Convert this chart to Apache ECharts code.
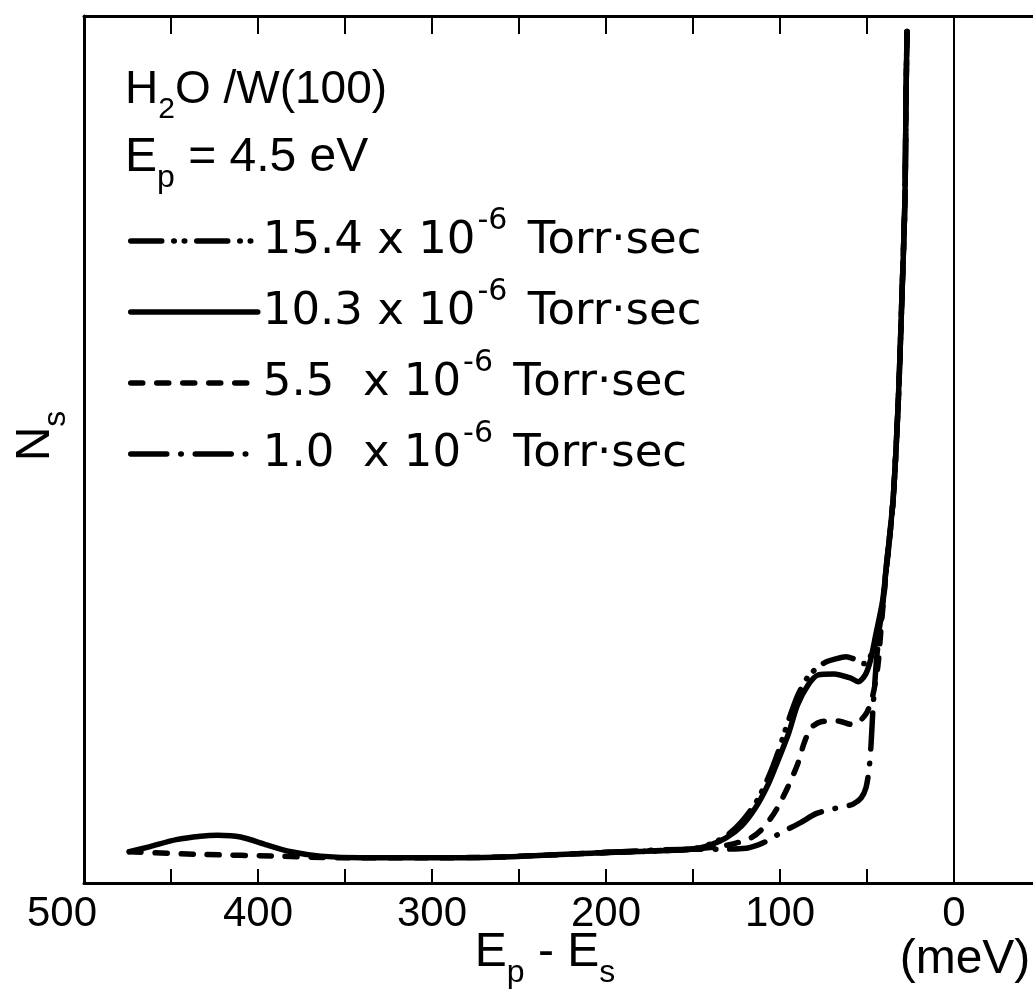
<!DOCTYPE html>
<html><head><meta charset="utf-8">
<script src="https://cdn.jsdelivr.net/npm/echarts@6/dist/echarts.min.js"></script>
<style>html,body{margin:0;padding:0;background:#fff}#c{width:1033px;height:1008px}</style>
</head><body><div id="c"></div><script>
// ---- data (energy loss in meV, intensity in arbitrary units) ----
const tickValues = [50, 100, 150, 200, 250, 300, 350, 400, 450];
const tickLabels = [0, 100, 200, 300, 400, 500];
const seriesNames = ['15.4', '10.3', '5.5', '1.0'];

const e103 = [474, 462, 447, 433, 423, 410, 395, 381, 364, 341, 306, 260, 203, 151, 140, 131, 122, 114, 107, 101, 95, 90, 84, 78, 69, 59, 55, 51, 48, 45, 41, 38.5, 35, 32, 30, 28.2, 27.6, 27];
const n103 = [36, 42, 50, 54, 55, 53, 44, 36, 31, 29, 29, 30, 35, 39, 44, 52, 66, 87, 113, 142, 173, 205, 228, 240, 241, 236, 232, 240, 257, 286, 326, 373, 442, 557, 672, 788, 903, 982];

const e154 = [203, 151, 140, 131, 122.4, 113.8, 106.9, 101.1, 95.4, 89.7, 83.9, 78.2, 73.6, 69, 62.1, 55.7, 51.7, 47.7, 44.3, 42, 38.5, 35, 32, 30, 28.2, 27.6, 27];
const n154 = [35, 39, 45, 54, 70, 93, 121, 151, 186, 217, 238, 249, 255, 258, 261, 257, 253, 263, 280, 306, 373, 442, 557, 672, 788, 903, 982];

const e55 = [474, 433, 387, 352, 306, 260, 203, 151, 136.8, 125.3, 116.7, 110.9, 105.2, 101.1, 95.4, 89.7, 86.2, 82.2, 76.4, 66.7, 59.2, 54.6, 50, 46.6, 43.7, 42, 39.7, 35, 32, 30, 28.2, 27.6, 27];
const n55 = [36, 33, 31, 29, 29, 30, 35, 39, 41.5, 46, 52, 61, 75, 88, 111, 138, 161, 179, 186, 187, 183, 186, 197, 217, 251, 292, 344, 442, 557, 672, 788, 903, 982];

const e10 = [203, 151, 133.9, 119.5, 113.8, 108, 99.4, 87.9, 79.3, 70.7, 63.2, 58, 53.4, 50.6, 48.9, 47.7, 46.6, 45.4, 44.3, 42, 39.7, 35, 32, 30, 28.2, 27.6, 27];
const n10 = [35, 39, 39, 40, 43, 48, 58, 70, 80, 85, 88, 91, 98, 110, 130, 159, 200, 234, 263, 303, 344, 442, 557, 672, 788, 903, 982];

const zip = (a, b) => a.map((v, i) => [v, b[i]]);

const LW = 5.5;
const FONT = 'Liberation Sans';
const LEGFONT = 'DejaVu Sans';
const styles = {
  '15.4': [31, 12, 0.5, 10, 0.5, 12],
  '10.3': 'solid',
  '5.5': [12, 14],
  '1.0': [36, 14, 0.5, 14]
};
function lineSeries(name, data, z) {
  return {
    name, type: 'line', data, symbol: 'none', smooth: 0.25, z,
    itemStyle: { color: '#000' },
    lineStyle: { color: '#000', width: LW, type: styles[name], cap: 'round', join: 'round' },
    emphasis: { disabled: true }
  };
}

const chart = echarts.init(document.getElementById('c'), null, { renderer: 'canvas' });
const s103 = lineSeries('10.3', zip(e103, n103), 2);
s103.markLine = {
  silent: true, symbol: ['none', 'none'], label: { show: false },
  lineStyle: { color: '#000', width: 2, type: 'solid' },
  data: [{ xAxis: 0 }]
};

const rich = {
  sb: { fontSize: 32, lineHeight: 32, padding: [40, 0, 0, 0], fontFamily: FONT, color: '#000' },
  m: { fontSize: 48, lineHeight: 56, fontFamily: FONT, color: '#000' },
  tsb: { fontSize: 30, lineHeight: 30, padding: [40, 0, 0, 0], fontFamily: FONT, color: '#000' },
  tm: { fontSize: 46, lineHeight: 56, fontFamily: FONT, color: '#000' }
};
const legRich = {
  sp: { fontSize: 30, lineHeight: 30, padding: [0, 6, 40, 2], fontFamily: LEGFONT, color: '#000' }
};

chart.setOption({
  animation: false,
  backgroundColor: '#fff',
  grid: { left: 84, right: 0, top: 16, bottom: 125, containLabel: false },
  xAxis: [
    {
      type: 'value', inverse: true, min: -45.4, max: 500, position: 'bottom',
      axisLine: { onZero: false, lineStyle: { color: '#000', width: 3 } },
      axisTick: { show: true, inside: true, length: 14, customValues: tickValues, lineStyle: { color: '#000', width: 2 } },
      axisLabel: {
        show: true, customValues: tickLabels, margin: 10, color: '#000', fontSize: 42, fontFamily: FONT,
        formatter: v => v === 500 ? '{l|500}' : String(v),
        rich: { l: { fontSize: 42, fontFamily: FONT, color: '#000', padding: [0, 44, 0, 0] } }
      },
      splitLine: { show: false }
    },
    {
      type: 'value', inverse: true, min: -45.4, max: 500, position: 'top',
      axisLine: { onZero: false, lineStyle: { color: '#000', width: 3 } },
      axisTick: { show: true, inside: true, length: 18, customValues: tickValues, lineStyle: { color: '#000', width: 2 } },
      axisLabel: { show: false },
      splitLine: { show: false }
    }
  ],
  yAxis: {
    type: 'value', min: 0, max: 1000,
    axisLine: { show: true, onZero: false, lineStyle: { color: '#000', width: 3 } },
    axisTick: { show: false }, axisLabel: { show: false }, splitLine: { show: false }
  },
  legend: {
    orient: 'vertical', left: 128, top: 206, itemGap: 1,
    itemWidth: 127, itemHeight: 8, padding: 0,
    selectedMode: false,
    data: seriesNames,
    lineStyle: { width: LW },
    itemStyle: { color: 'rgba(0,0,0,0)', borderColor: 'rgba(0,0,0,0)', borderWidth: 0 },
    formatter: n => (n.length < 4 ? n + '  x 10' : n + ' x 10') + '{sp|-6} Torr·sec',
    textStyle: { fontSize: 45, lineHeight: 56, fontFamily: LEGFONT, color: '#000', rich: legRich }
  },
  graphic: [
    { type: 'text', x: 125, y: 90, silent: true,
      style: { text: '{tm|H}{tsb|2}{tm|O /W(100)}', rich: rich, verticalAlign: 'middle', align: 'left' } },
    { type: 'text', x: 125, y: 158, silent: true,
      style: { text: '{m|E}{sb|p}{m| = 4.5 eV}', rich: rich, verticalAlign: 'middle', align: 'left' } },
    { type: 'text', x: 545, y: 953, silent: true,
      style: { text: '{m|E}{sb|p}{m| - E}{sb|s}', rich: rich, verticalAlign: 'middle', align: 'center' } },
    { type: 'text', x: 965, y: 960, silent: true,
      style: { text: '{m|(meV)}', rich: rich, verticalAlign: 'middle', align: 'center' } },
    { type: 'text', x: 36, y: 436, rotation: Math.PI / 2, silent: true,
      style: { text: '{m|N}{sb|s}', rich: rich, verticalAlign: 'middle', align: 'center' } }
  ],
  series: [
    s103,
    lineSeries('15.4', zip(e154, n154), 3),
    lineSeries('5.5', zip(e55, n55), 3),
    lineSeries('1.0', zip(e10, n10), 3)
  ]
});
</script></body></html>
